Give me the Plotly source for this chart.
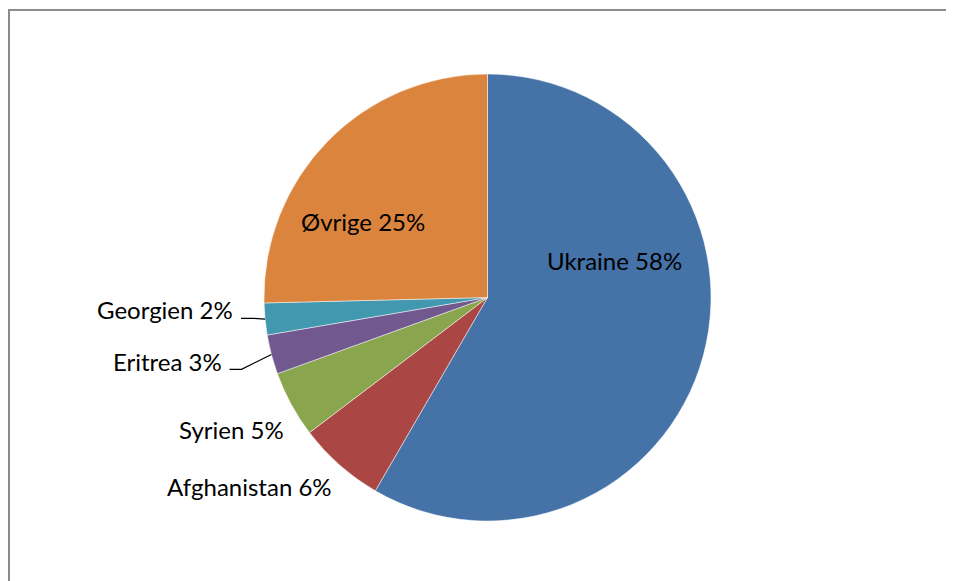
import math
import plotly.graph_objects as go

countries = ["Ukraine", "Afghanistan", "Syrien", "Eritrea", "Georgien", "Øvrige"]
shares = [58.4, 6.3, 4.8, 2.85, 2.3, 25.4]
colors = ["#4572A7", "#AA4643", "#89A54E", "#71588F", "#4198AF", "#DB843D"]

# ---- layout (window pixel coordinates; page body has an 8px margin) ----
W, H = 954, 581
OFF = 8
cx, cy, r = 487.5, 297.5, 223.5
# label anchor: (x, y_center, xanchor)
label_pos = {
    "Ukraine": (614.5, 260.5, "center"),
    "Øvrige": (362.5, 221.5, "center"),
    "Georgien": (235.0, 309.5, "right"),
    "Eritrea": (223.5, 361.0, "right"),
    "Syrien": (285.5, 429.0, "right"),
    "Afghanistan": (333.5, 486.5, "right"),
}
leaders = {"Georgien": 318.3, "Eritrea": 369.3}
FONT = dict(family="Lato, Carlito, Calibri, sans-serif", size=24, color="#000000")


def px(X):
    return (X - OFF) / W


def py(Y):
    return 1 - (Y - OFF) / H


fig = go.Figure(go.Pie(
    labels=countries,
    values=shares,
    sort=False,
    direction="clockwise",
    rotation=0,
    marker=dict(colors=colors, line=dict(color="rgba(255,255,255,0.7)", width=0.7)),
    textinfo="none",
    showlegend=False,
    hoverinfo="label+percent",
    domain=dict(x=[px(cx - r), px(cx + r)], y=[py(cy + r), py(cy - r)]),
))

total = sum(shares)
annotations = []
shapes = [dict(type="rect", xref="paper", yref="paper",
               x0=px(9), x1=1.05, y0=-0.05, y1=py(10),
               line=dict(color="#8c8c8c", width=2), layer="below")]
cum = 0.0
for name, v in zip(countries, shares):
    pct = round(100 * v / total)
    mid = math.radians(360 * (cum + v / 2) / total)
    cum += v
    X, Yc, anchor = label_pos[name]
    annotations.append(dict(
        x=px(X), y=py(Yc), xref="paper", yref="paper",
        text=f"{name} {pct}%", showarrow=False,
        xanchor=anchor, yanchor="middle", font=FONT,
    ))
    if name in leaders:
        Px = cx + r * math.sin(mid)
        Py = cy - r * math.cos(mid)
        Ly = leaders[name]
        x0 = X + 6
        path = (f"M {px(x0)} {py(Ly)} L {px(x0 + 12)} {py(Ly)} "
                f"L {px(Px)} {py(Py)}")
        shapes.append(dict(type="path", xref="paper", yref="paper", path=path,
                           line=dict(color="#000000", width=1.2)))

fig.update_layout(
    width=W, height=H,
    margin=dict(l=0, r=0, t=0, b=0),
    paper_bgcolor="white",
    plot_bgcolor="white",
    shapes=shapes,
    annotations=annotations,
)

fig.write_html("out.html")
